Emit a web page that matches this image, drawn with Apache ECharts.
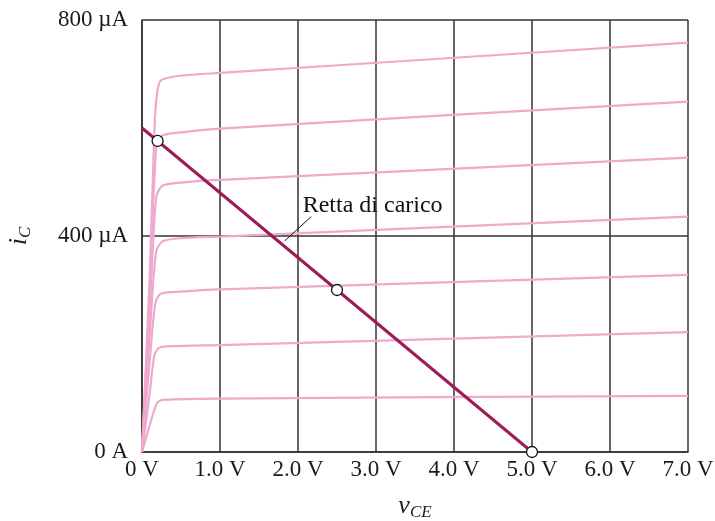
<!DOCTYPE html>
<html><head><meta charset="utf-8">
<script src="https://cdn.jsdelivr.net/npm/echarts@6/dist/echarts.min.js"></script>
<style>html,body{margin:0;padding:0;background:#fff}#c{width:715px;height:521px}</style>
</head><body><div id="c"></div>
<script>
// x ticks (V) and y ticks (µA)
const xTickLabels = ['0 V','1.0 V','2.0 V','3.0 V','4.0 V','5.0 V','6.0 V','7.0 V'];
const yTickLabels = {0:'0 A',400:'400 µA',800:'800 µA'};

// characteristic curves [vCE (V), iC (µA)]
const curve100 = [[0,0],[0.12,60],[0.2,92],[0.3,97],[1,99],[7,104]];
const curve200 = [[0,0],[0.1,110],[0.16,180],[0.22,193],[0.4,196],[1,198],[7,222]];
const curve300 = [[0,0],[0.1,170],[0.17,275],[0.24,293],[0.5,297],[1,301],[7,328]];
const curve400 = [[0,0],[0.1,220],[0.18,370],[0.26,390],[0.5,396],[1,399],[7,436]];
const curve500 = [[0,0],[0.1,260],[0.18,470],[0.26,493],[0.5,499],[1,504],[7,545]];
const curve600 = [[0,0],[0.1,300],[0.18,560],[0.25,585],[0.5,592],[1,599],[7,649]];
const curve700 = [[0,0],[0.1,330],[0.16,600],[0.19,660],[0.24,688],[0.5,697],[1,702],[7,758]];

// load line and operating points
const loadLine = [[0,600],[5,0]];
const opPoints = [[0.2,576],[2.5,300],[5,0]];
// annotation
const leader = [[1.83,391],[2.17,436]];
const annotText = 'Retta di carico';
const annotAt = [2.06,457];

const curves = [curve100,curve200,curve300,curve400,curve500,curve600,curve700];
const pink = '#efa9cd';
const font = 'Liberation Serif';
const txt = '#1a1a1a';

const series = curves.map(d => ({
  type:'line', data:d, showSymbol:false, smooth:0.25, silent:true,
  lineStyle:{color:pink, width:2.2}, z:2
}));
series.push({type:'line', data:loadLine, showSymbol:false, silent:true,
  lineStyle:{color:'#9a1d58', width:3}, z:3});
series.push({type:'line', data:leader, showSymbol:false, silent:true,
  lineStyle:{color:'#111', width:1}, z:3});
series.push({type:'scatter', data:[annotAt], symbolSize:0, silent:true,
  itemStyle:{opacity:1},
  label:{show:true, position:'right', distance:0, formatter:annotText,
    fontFamily:font, fontSize:24, color:'#111', opacity:1}, z:4});
series.push({type:'scatter', data:opPoints, symbol:'circle', symbolSize:11, silent:true,
  itemStyle:{color:'#fff', opacity:1, borderColor:'#111', borderWidth:1.3}, z:5});

const chart = echarts.init(document.getElementById('c'), null, {renderer:'canvas'});
chart.setOption({
  animation:false,
  backgroundColor:'#fff',
  grid:{left:142, right:27, top:20, bottom:69, containLabel:false, outerBoundsMode:'none'},
  xAxis:{type:'value', min:0, max:7, interval:1,
    name:'{v|v}{s|CE}', nameLocation:'middle', nameGap:40,
    nameTextStyle:{rich:{
      v:{fontFamily:font, fontStyle:'italic', fontSize:26, color:txt},
      s:{fontFamily:font, fontStyle:'italic', fontSize:17, color:txt, padding:[12,0,0,0]}}},
    axisLine:{lineStyle:{color:'#333', width:1.5}},
    axisTick:{show:false},
    axisLabel:{fontFamily:font, fontSize:23, color:txt, margin:6,
      formatter:v => xTickLabels[Math.round(v)]},
    splitLine:{show:true, lineStyle:{color:'#333', width:1.5}}
  },
  yAxis:{type:'value', min:0, max:800, interval:400,
    name:'{i|i}{s|C}', nameLocation:'middle', nameGap:108, nameRotate:90,
    nameTextStyle:{rich:{
      i:{fontFamily:font, fontStyle:'italic', fontSize:26, color:txt},
      s:{fontFamily:font, fontStyle:'italic', fontSize:17, color:txt, padding:[12,0,0,0]}}},
    axisLine:{show:true, lineStyle:{color:'#333', width:1.5}},
    axisTick:{show:false},
    axisLabel:{fontFamily:font, fontSize:23, color:txt, margin:14,
      formatter:v => yTickLabels[v]},
    splitLine:{show:true, lineStyle:{color:'#333', width:1.5}}
  },
  series:series
});
</script></body></html>
